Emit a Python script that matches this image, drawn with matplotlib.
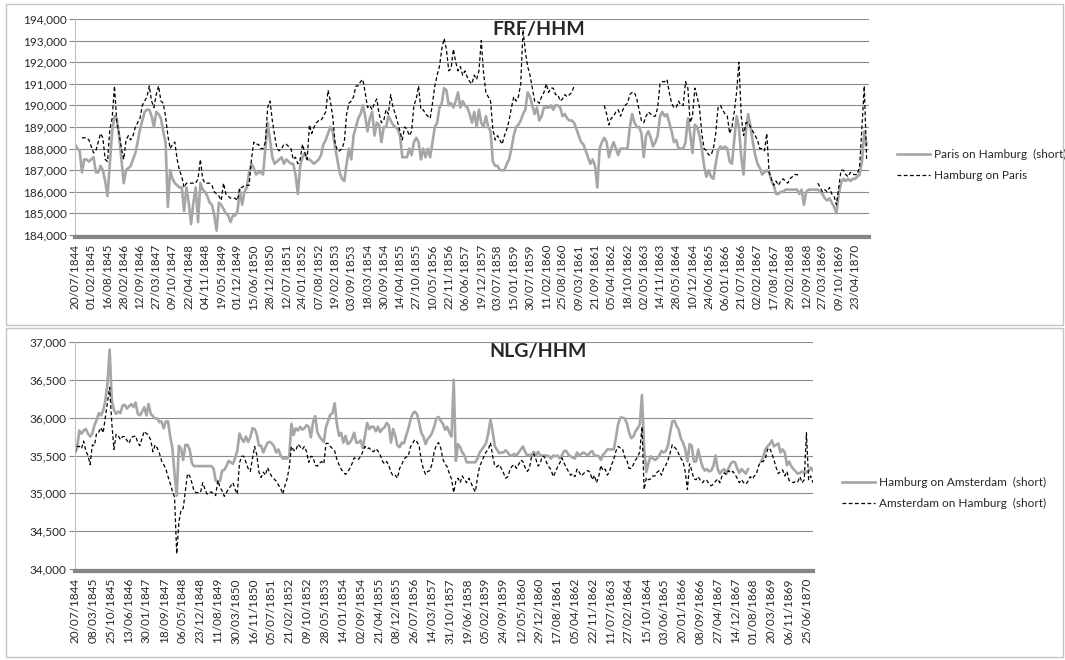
import numpy as np
import pandas as pd
import matplotlib
matplotlib.use("Agg")
import matplotlib.pyplot as plt
import matplotlib.dates as mdates
from matplotlib.patches import Rectangle
from matplotlib.ticker import FuncFormatter

plt.rcParams["font.family"] = ["Lato", "DejaVu Sans"]

nan = np.nan

# tick labels as printed under each panel
FRF_TICKS = [
    "20/07/1844", "01/02/1845", "16/08/1845", "28/02/1846", "12/09/1846", "27/03/1847",
    "09/10/1847", "22/04/1848", "04/11/1848", "19/05/1849", "01/12/1849", "15/06/1850",
    "28/12/1850", "12/07/1851", "24/01/1852", "07/08/1852", "19/02/1853", "03/09/1853",
    "18/03/1854", "30/09/1854", "14/04/1855", "27/10/1855", "10/05/1856", "22/11/1856",
    "06/06/1857", "19/12/1857", "03/07/1858", "15/01/1859", "30/07/1859", "11/02/1860",
    "25/08/1860", "09/03/1861", "21/09/1861", "05/04/1862", "18/10/1862", "02/05/1863",
    "14/11/1863", "28/05/1864", "10/12/1864", "24/06/1865", "06/01/1866", "21/07/1866",
    "02/02/1867", "17/08/1867", "29/02/1868", "12/09/1868", "27/03/1869", "09/10/1869",
    "23/04/1870",
]
NLG_TICKS = [
    "20/07/1844", "08/03/1845", "25/10/1845", "13/06/1846", "30/01/1847", "18/09/1847",
    "06/05/1848", "23/12/1848", "11/08/1849", "30/03/1850", "16/11/1850", "05/07/1851",
    "21/02/1852", "09/10/1852", "28/05/1853", "14/01/1854", "02/09/1854", "21/04/1855",
    "08/12/1855", "26/07/1856", "14/03/1857", "31/10/1857", "19/06/1858", "05/02/1859",
    "24/09/1859", "12/05/1860", "29/12/1860", "17/08/1861", "05/04/1862", "22/11/1862",
    "11/07/1863", "27/02/1864", "15/10/1864", "03/06/1865", "20/01/1866", "08/09/1866",
    "27/04/1867", "14/12/1867", "01/08/1868", "20/03/1869", "06/11/1869", "25/06/1870",
]

# one reading every 28 days from 20/07/1844
PARIS_ON_HAMBURG = [
    188200, 188000, 187900, 186900, 187500, 187500, 187400, 187500, 187600, 186900,
    186900, 187200, 187000, 186500, 185800, 187300, 188800, 189500, 189400, 188600,
    187500, 186400, 187000, 187100, 187200, 187500, 187800, 188300, 188900, 189300,
    189700, 189800, 189800, 189500, 189000, 189700, 189600, 189400, 188800, 188300,
    185300, 187000, 186600, 186400, 186300, 186200, 186200, 185100, 186200, 185500,
    184500, 185500, 186200, 184600, 186400, 186100, 186000, 185800, 185500, 185400,
    184900, 184200, 185500, 185400, 185200, 185000, 184900, 184600, 184900, 184900,
    185100, 186100, 185400, 186000, 186200, 186900, 187300, 187100, 186800, 186900,
    186900, 186800, 188000, 189200, 188400, 187600, 187300, 187400, 187500, 187600,
    187300, 187500, 187400, 187300, 187300, 186800, 185900, 187200, 187600, 187800,
    187500, 187500, 187400, 187300, 187400, 187500, 187700, 188200, 188400, 188700,
    189000, 188800, 188100, 187500, 186900, 186600, 186500, 187300, 188000, 187500,
    188600, 189000, 189400, 189600, 190000, 189500, 188800, 189400, 189700, 188600,
    189200, 189100, 188300, 189000, 189000, 189500, 189300, 189100, 189000, 188900,
    188600, 187600, 187600, 187600, 188000, 187700, 188300, 188500, 188300, 187500,
    188000, 187600, 188000, 187600, 188300, 189000, 189200, 189900, 190100, 190800,
    190700, 190000, 190100, 189900, 190200, 190600, 189900, 190200, 190000, 189900,
    189600, 189200, 189700, 189000, 189800, 189200, 189000, 189500, 189000, 188800,
    187400, 187200, 187200, 187000, 187000, 187000, 187300, 187500, 188000, 188600,
    189000, 189100, 189300, 189600, 189800, 190600, 190400, 190000, 189600, 189900,
    189300, 189500, 189900, 189900, 189900, 190000, 189800, 190000, 190000, 189900,
    189500, 189600, 189400, 189300, 189300, 189200, 188900, 188600, 188300, 188200,
    187900, 187600, 187300, 187500, 187200, 186200, 188000, 188300, 188500, 188300,
    187600, 188000, 188300, 188000, 187700, 188000, 188000, 188000, 188000, 189000,
    189600, 189200, 189000, 189000, 188700, 187600, 188600, 188800, 188500, 188100,
    188300, 188600, 189500, 189700, 189500, 189600, 189200, 188800, 188300, 188400,
    188000, 188000, 188000, 188300, 189400, 188700, 187800, 189100, 189000, 188600,
    188000, 187200, 186700, 187000, 186700, 186600, 187300, 187900, 188100, 188000,
    188100, 188000, 187400, 187300, 188400, 189500, 189000, 187600, 186800, 188800,
    189600, 189000, 188300, 187700, 187300, 187100, 186800, 186900, 187000, 186900,
    186500, 186300, 185900, 185900, 186000, 186000, 186100, 186100, 186100, 186100,
    186100, 186100, 185900, 186100, 185400, 186000, 186100, 186100, 186100, 186100,
    186100, 186000, 185900, 185700, 185600, 185700, 185500, 185300, 185000, 185900,
    186400, 186600, 186500, 186600, 186500, 186600, 186600, 186700, 186800, 187400,
    188800, 188200,
]
HAMBURG_ON_PARIS = [
    nan, nan, nan, 188500, 188500, 188500, 188400, 188100, 187800, 187900,
    188300, 188700, 188500, 187500, 187400, 188900, 189400, 190900, 189200, 188700,
    188000, 187500, 188400, 188600, 188400, 188600, 189000, 189200, 189400, 190000,
    190200, 190400, 190900, 190200, 189900, 190500, 190900, 190200, 190100, 189500,
    188600, 188000, 188200, 188300, 187500, 187000, 186700, 186200, 186400, 186400,
    186400, 186400, 186400, 186600, 187500, 186600, 186400, 186400, 186400, 186300,
    186000, 185900, 185800, 185600, 186400, 185900, 185800, 185700, 185700, 185700,
    185600, 186200, 186200, 186300, 186300, 186300, 187500, 188300, 188200, 188200,
    188000, 188000, 188300, 189900, 190200, 189300, 188600, 188000, 187900, 188000,
    188200, 188200, 188100, 188000, 187500, 187600, 187300, 187500, 188200, 187800,
    187500, 189100, 188700, 189000, 189200, 189300, 189300, 189500, 189700, 190700,
    190200, 189500, 188300, 187900, 187900, 188000, 188300, 189600, 190100, 190200,
    190400, 190900, 190900, 191100, 191200, 190600, 189900, 190000, 189800, 190100,
    190300, 189600, 189200, 189300, 189800, 189600, 190500, 189900, 189600, 189200,
    188800, 188400, 189000, 188900, 188600, 188800, 190000, 190300, 190900, 189800,
    189800, 189600, 189500, 189400, 190100, 190900, 191400, 191800, 192600, 193100,
    192600, 191600, 191700, 192600, 192000, 191600, 191800, 191400, 191600, 191300,
    191100, 191000, 191400, 191200, 191600, 193000, 191500, 190600, 190400, 190200,
    188900, 188400, 188600, 188400, 188200, 188600, 188900, 189300, 189900, 190400,
    190200, 190400, 191000, 193500, 192500, 191800, 191400, 190800, 190200, 190200,
    190100, 190400, 190600, 191000, 190600, 190800, 190800, 190500, 190500, 190200,
    190300, 190500, 190400, 190500, 190600, 190900, nan, nan, nan, nan,
    nan, nan, nan, nan, nan, nan, nan, nan, 190000, 189600,
    189100, 189400, 189500, 189700, 189800, 189500, 189800, 190000, 190100, 190500,
    190600, 190600, 190300, 189800, 189300, 189200, 189500, 189700, 189600, 189500,
    189500, 189900, 191000, 191100, 191100, 191200, 190600, 190100, 189900, 189900,
    190200, 190000, 190000, 191100, 190800, 189200, 189500, 190800, 190400, 189900,
    188700, 188000, 187900, 187700, 187700, 188000, 188700, 189900, 190000, 189800,
    189600, 189500, 188700, 189000, 189700, 190600, 192000, 189500, 188600, 189200,
    189200, 189000, 188800, 188600, 188400, 188000, 188000, 187900, 188700, 186900,
    186600, 186300, 186500, 186300, 186500, 186600, 186500, 186400, 186600, 186700,
    186800, 186800, 186700, nan, nan, nan, nan, nan, nan, nan,
    186400, 186200, 186000, 186100, 186000, 186200, 185900, 185800, 185400, 186200,
    187000, 187000, 186800, 186700, 186900, 186800, 186800, 186800, 187200, 189000,
    190900, 187500,
]
HAMBURG_ON_AMSTERDAM = [
    35535, 35600, 35830, 35790, 35830, 35850, 35790, 35750, 35790, 35900,
    35970, 36060, 36030, 36090, 36220, 36450, 36900, 36230, 36100, 36050,
    36080, 36060, 36160, 36170, 36120, 36150, 36180, 36140, 36200, 36050,
    36030, 36080, 36140, 36030, 36180, 36050, 36020, 35990, 35990, 35940,
    35950, 35860, 35950, 35950, 35750, 35600, 35260, 34970, 35630, 35590,
    35440, 35640, 35640, 35580, 35400, 35360, 35360, 35360, 35360, 35360,
    35360, 35360, 35360, 35360, 35330, 35170, 35160, 35160, 35300, 35310,
    35360, 35430, 35410, 35390, 35470, 35560, 35790, 35720, 35680, 35750,
    35680, 35740, 35860, 35850, 35780, 35630, 35630, 35540, 35610, 35670,
    35680, 35660, 35620, 35540, 35580, 35500, 35460, 35460, 35460, 35490,
    35920, 35770, 35860, 35830, 35880, 35840, 35860, 35900, 35880, 35740,
    35940, 36020, 35810, 35750, 35710, 35680, 35880, 35960, 36040, 36060,
    36190, 35920, 35760, 35800, 35670, 35760, 35650, 35670, 35720, 35800,
    35670, 35670, 35700, 35600, 35760, 35930, 35850, 35880, 35880, 35820,
    35880, 35810, 35850, 35870, 35930, 35900, 35670, 35850, 35760, 35630,
    35610, 35670, 35660, 35760, 35850, 35970, 36050, 36080, 36050, 35940,
    35800, 35750, 35650, 35720, 35750, 35800, 35880, 35990, 36010, 35960,
    35920, 35840, 35880, 35800, 35750, 36500, 35430, 35650, 35610, 35540,
    35500, 35410, 35410, 35410, 35410, 35410, 35460, 35540, 35580, 35620,
    35670, 35800, 35970, 35820, 35620, 35580, 35530, 35540, 35540, 35570,
    35540, 35500, 35500, 35520, 35500, 35540, 35580, 35620, 35550, 35500,
    35510, 35500, 35550, 35500, 35550, 35500, 35500, 35500, 35500, 35490,
    35460, 35500, 35490, 35500, 35460, 35500, 35560, 35560, 35510, 35490,
    35470, 35460, 35540, 35500, 35520, 35540, 35520, 35500, 35540, 35560,
    35500, 35500, 35490, 35440, 35510, 35540, 35580, 35580, 35580, 35580,
    35740, 35920, 36000, 36000, 35990, 35930, 35810, 35730, 35750, 35820,
    35860, 35910, 36300, 35600, 35280, 35400, 35490, 35460, 35440, 35460,
    35500, 35560, 35540, 35560, 35630, 35800, 35950, 35960, 35890, 35840,
    35720, 35670, 35580, 35420, 35650, 35630, 35420, 35420, 35580, 35450,
    35350, 35300, 35320, 35290, 35300, 35360, 35500, 35320, 35260, 35300,
    35320, 35260, 35330, 35390, 35420, 35410, 35330, 35270, 35320, 35290,
    35260, 35320, nan, nan, nan, nan, nan, 35420, 35470, 35580,
    35620, 35650, 35700, 35620, 35640, 35660, 35540, 35580, 35540, 35370,
    35420, 35360, 35320, 35290, 35260, 35270, 35290, 35270, 35280, 35290,
    35340, 35300,
]
AMSTERDAM_ON_HAMBURG = [
    35535, 35620, 35620, 35590, 35690, 35560, 35500, 35380, 35640, 35630,
    35800, 35810, 35870, 35800, 36000, 36210, 36400, 35930, 35580, 35780,
    35760, 35710, 35750, 35750, 35700, 35660, 35740, 35750, 35760, 35670,
    35630, 35730, 35820, 35790, 35770, 35700, 35550, 35640, 35600, 35530,
    35430, 35380, 35320, 35220, 35130, 35030, 34950, 34200, 34620, 34780,
    34800, 35030, 35260, 35230, 35140, 35030, 35010, 35010, 35010, 35140,
    35060, 34990, 35010, 35020, 34990, 34970, 35170, 35080, 35030, 34960,
    35010, 35060, 35100, 35140, 35050, 34990, 35400, 35490, 35490, 35410,
    35330, 35290, 35460, 35620, 35510, 35280, 35210, 35280, 35240, 35340,
    35270, 35220, 35190, 35160, 35110, 35070, 34990, 35100, 35190, 35340,
    35620, 35570, 35560, 35650, 35620, 35580, 35620, 35550, 35410, 35490,
    35480, 35370, 35360, 35400, 35420, 35390, 35660, 35660, 35620, 35590,
    35560, 35450, 35380, 35320, 35280, 35250, 35280, 35330, 35390, 35470,
    35450, 35450, 35490, 35550, 35620, 35590, 35600, 35560, 35550, 35590,
    35560, 35510, 35430, 35390, 35420, 35370, 35280, 35230, 35240, 35200,
    35330, 35380, 35450, 35480, 35490, 35610, 35660, 35710, 35680, 35630,
    35440, 35320, 35250, 35290, 35300, 35390, 35550, 35640, 35670, 35600,
    35450, 35390, 35350, 35260, 35190, 35010, 35160, 35200, 35140, 35230,
    35180, 35140, 35200, 35140, 35070, 35020, 35210, 35360, 35420, 35490,
    35550, 35580, 35670, 35490, 35360, 35350, 35380, 35330, 35270, 35200,
    35220, 35310, 35360, 35380, 35330, 35380, 35440, 35420, 35340, 35290,
    35330, 35490, 35520, 35450, 35360, 35400, 35490, 35480, 35400, 35350,
    35310, 35220, 35280, 35350, 35400, 35470, 35400, 35340, 35290, 35240,
    35260, 35220, 35320, 35280, 35230, 35260, 35290, 35300, 35280, 35180,
    35240, 35140, 35220, 35370, 35300, 35320, 35240, 35290, 35380, 35450,
    35560, 35620, 35600, 35590, 35480, 35440, 35330, 35330, 35380, 35440,
    35480, 35550, 35880, 35050, 35210, 35180, 35190, 35230, 35230, 35280,
    35300, 35240, 35330, 35370, 35440, 35530, 35640, 35610, 35580, 35520,
    35460, 35420, 35280, 35050, 35390, 35300, 35190, 35180, 35220, 35170,
    35140, 35180, 35170, 35120, 35100, 35120, 35160, 35190, 35140, 35230,
    35270, 35250, 35300, 35270, 35290, 35250, 35200, 35140, 35180, 35140,
    35120, 35160, 35220, 35190, 35230, 35270, 35370, 35420, 35420, 35450,
    35580, 35600, 35530, 35440, 35340, 35260, 35290, 35310, 35230, 35290,
    35170, 35160, 35140, 35160, 35150, 35220, 35140, 35180, 35800, 35180,
    35230, 35140,
]

GRAY = "#a6a6a6"
GRID = "#8c8c8c"
TEXT = "#262626"
W, H = 1065, 660

dates = pd.date_range("1844-07-20", periods=len(PARIS_ON_HAMBURG), freq="28D").to_pydatetime()


def fx(px):
    return px / W


def fy(py):
    return 1 - py / H


def style_axis(ax, ymin, ymax, step, ticks, xright):
    ax.set_ylim(ymin, ymax)
    ax.set_yticks(np.arange(ymin, ymax + step, step))
    ax.yaxis.set_major_formatter(FuncFormatter(lambda v, p: f"{v:,.0f}"))
    ax.grid(axis="y", color=GRID, linewidth=0.8)
    ax.set_axisbelow(True)
    ax.spines["top"].set_visible(False)
    ax.spines["right"].set_visible(False)
    ax.spines["left"].set_color("#c0c0c0")
    ax.spines["bottom"].set_color("#858585")
    ax.spines["bottom"].set_linewidth(3.0)
    ax.spines["bottom"].set_position(("outward", 1.5))
    tick_dates = pd.to_datetime(ticks, format="%d/%m/%Y").to_pydatetime()
    ax.set_xticks(mdates.date2num(tick_dates))
    ax.set_xticklabels(ticks, rotation=90, fontsize=8.5, color=TEXT)
    ax.tick_params(axis="x", length=0, pad=5)
    ax.tick_params(axis="y", length=4, color=GRID, labelsize=8.5, labelcolor=TEXT, pad=2)
    ax.set_xlim(mdates.date2num(dates[0]), mdates.date2num(dates[0]) + xright)


fig = plt.figure(figsize=(W / 100, H / 100), dpi=100)
fig.patch.set_facecolor("white")

# chart boxes
fig.patches.append(Rectangle((fx(6), fy(325)), fx(1057), 321 / H, transform=fig.transFigure,
                             fill=False, edgecolor="#c4c4c4", linewidth=1))
fig.patches.append(Rectangle((fx(6), fy(657)), fx(1057), 329 / H, transform=fig.transFigure,
                             fill=False, edgecolor="#c4c4c4", linewidth=1))

# FRF/HHM panel
ax1 = fig.add_axes([fx(75), fy(235), fx(794), 216 / H])
ax1.plot(dates, PARIS_ON_HAMBURG, color=GRAY, linewidth=1.9, label="Paris on Hamburg  (short)")
ax1.plot(dates, HAMBURG_ON_PARIS, color="black", linewidth=0.9, linestyle=(0, (3, 2)),
         label="Hamburg on Paris")
style_axis(ax1, 184000, 194000, 1000, FRF_TICKS, 9577)
ax1.legend(loc="center left", bbox_to_anchor=(fx(886), fy(165)), bbox_transform=fig.transFigure,
           frameon=False, fontsize=8.5, handlelength=2.8, handletextpad=0.4, labelspacing=0.9,
           labelcolor=TEXT)
fig.text(fx(539), fy(30), "FRF/HHM", ha="center", va="center", fontsize=14,
         fontweight="bold", color=TEXT)

# NLG/HHM panel
ax2 = fig.add_axes([fx(75), fy(569), fx(738), 227 / H])
ax2.plot(dates, HAMBURG_ON_AMSTERDAM, color=GRAY, linewidth=1.9, label="Hamburg on Amsterdam  (short)")
ax2.plot(dates, AMSTERDAM_ON_HAMBURG, color="black", linewidth=0.9, linestyle=(0, (3, 2)),
         label="Amsterdam on Hamburg  (short)")
style_axis(ax2, 34000, 37000, 500, NLG_TICKS, 9549)
ax2.legend(loc="center left", bbox_to_anchor=(fx(831), fy(493)), bbox_transform=fig.transFigure,
           frameon=False, fontsize=8.5, handlelength=2.8, handletextpad=0.4, labelspacing=0.9,
           labelcolor=TEXT)
fig.text(fx(538), fy(352), "NLG/HHM", ha="center", va="center", fontsize=14,
         fontweight="bold", color=TEXT)

fig.savefig("out.png", dpi=100, facecolor="white")
